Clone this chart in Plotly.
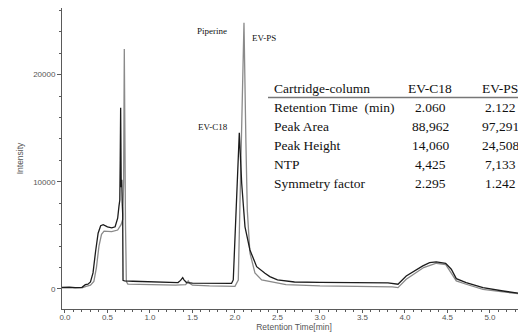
import plotly.graph_objects as go

# ---------------- data ----------------
c18_time = [-0.035, 0.05, 0.12, 0.20, 0.24, 0.27, 0.30, 0.33, 0.36, 0.39, 0.42, 0.45, 0.50, 0.55,
            0.59, 0.62, 0.635, 0.645, 0.650, 0.655, 0.662, 0.668, 0.674, 0.679, 0.683, 0.70,
            0.80, 1.00, 1.20, 1.33, 1.36, 1.385, 1.40, 1.43, 1.50, 1.70, 1.90, 1.96, 1.98,
            2.012, 2.039, 2.051, 2.079, 2.118, 2.176, 2.255, 2.353, 2.41, 2.50, 2.70, 3.00,
            3.50, 3.80, 3.918, 4.015, 4.21, 4.29, 4.368, 4.479, 4.545, 4.604, 4.72, 4.918,
            5.153, 5.424]
c18_int = [150, 180, 120, 150, 400, 450, 650, 1500, 3500, 5200, 5900, 6000, 5800, 5700,
           5800, 6600, 7700, 8300, 12000, 16900, 9500, 10200, 8000, 7000, 800, 750,
           720, 700, 650, 600, 800, 1050, 850, 600, 550, 520, 500, 520, 840,
           7370, 13600, 14580, 9860, 5800, 3640, 2080, 1460, 1150, 850, 650, 620,
           600, 560, 440, 1210, 2150, 2450, 2520, 2400, 1840, 960, 590, 120,
           -190, -500]

ps_time = [-0.035, 0.10, 0.20, 0.25, 0.30, 0.34, 0.37, 0.40, 0.43, 0.46, 0.55, 0.62, 0.66,
           0.68, 0.69, 0.698, 0.705, 0.712, 0.718, 0.722, 0.74, 0.90, 1.10, 1.30, 1.42,
           1.45, 1.47, 1.50, 1.70, 1.90, 2.00, 2.039, 2.067, 2.09, 2.106, 2.129, 2.145,
           2.176, 2.235, 2.314, 2.41, 2.60, 3.00, 3.50, 3.85, 3.918, 4.015, 4.22, 4.37,
           4.48, 4.545, 4.604, 4.72, 4.918, 5.153, 5.424]
ps_int = [100, 130, 100, 250, 350, 700, 2000, 4000, 5100, 5400, 5350, 5500, 6000,
          6500, 10000, 22400, 9000, 6000, 3000, 700, 450, 420, 380, 350, 400,
          750, 500, 350, 280, 260, 250, 840, 10480, 21370, 24850, 13600, 7370,
          3360, 1490, 840, 680, 400, 280, 230, 200, 120, 900, 2000, 2400,
          2270, 1520, 750, 440, -30, -280, -500]

x_tick_vals = [0.0, 0.5, 1.0, 1.5, 2.0, 2.5, 3.0, 3.5, 4.0, 4.5, 5.0]
x_tick_text = ["0.0", "0.5", "1.0", "1.5", "2.0", "2.5", "3.0", "3.5", "4.0", "4.5", "5.0"]
y_tick_vals = [0, 10000, 20000]
y_tick_text = ["0", "10000", "20000"]

peak_labels = ["Piperine", "EV-PS", "EV-C18"]

table_header = ["Cartridge-column", "EV-C18", "EV-PS"]
row_labels = ["Retention Time\u00a0 (min)", "Peak Area", "Peak Height", "NTP", "Symmetry factor"]
c18_vals = ["2.060", "88,962", "14,060", "4,425", "2.295"]
ps_vals = ["2.122", "97,291", "24,508", "7,133", "1.242"]

# ---------------- layout helpers ----------------
# the page body has an 8px default margin, so the figure is offset by 8px
OFF = 8
W, H = 526 - OFF, 332 - OFF
ML, MR, MT, MB = 62 - OFF, 0, 8 - OFF, 23
PW = W - ML - MR
PH = H - MT - MB


def fx(px):
    # px: page pixel x
    return (px - OFF - ML) / PW


def fy(py):
    # py: page pixel y
    return (H - MB - (py - OFF)) / PH


SERIF = "Liberation Serif, Times New Roman, serif"
SANS = "Liberation Sans, Arial, sans-serif"
AX = "#5a5a5a"

fig = go.Figure()
fig.add_trace(go.Scatter(x=ps_time, y=ps_int, mode="lines", name="EV-PS",
                         line=dict(color="#8a8a8a", width=1.3)))
fig.add_trace(go.Scatter(x=c18_time, y=c18_int, mode="lines", name="EV-C18",
                         line=dict(color="#1c1c1c", width=1.3)))

annotations = []
# peak labels
for txt, (px, py) in zip(peak_labels, [(212, 31), (264, 38), (213, 127)]):
    annotations.append(dict(text=txt, x=fx(px), y=fy(py), xref="paper", yref="paper",
                            showarrow=False, xanchor="center", yanchor="middle",
                            font=dict(family=SERIF, size=9, color="#111")))

# table
row_y = [88.5 + 19 * i for i in range(6)]
col_label_x = 272
col1_x, col2_x = 430, 500
tfont = dict(family=SERIF, size=13.5, color="#111")
annotations.append(dict(text=table_header[0], x=fx(col_label_x), y=fy(row_y[0]), xref="paper",
                        yref="paper", showarrow=False, xanchor="left", yanchor="middle", font=tfont))
annotations.append(dict(text=table_header[1], x=fx(col1_x), y=fy(row_y[0]), xref="paper",
                        yref="paper", showarrow=False, xanchor="center", yanchor="middle", font=tfont))
annotations.append(dict(text=table_header[2], x=fx(col2_x), y=fy(row_y[0]), xref="paper",
                        yref="paper", showarrow=False, xanchor="center", yanchor="middle", font=tfont))
for i, (lab, v1, v2) in enumerate(zip(row_labels, c18_vals, ps_vals)):
    yy = fy(row_y[i + 1])
    annotations.append(dict(text=lab, x=fx(col_label_x), y=yy, xref="paper", yref="paper",
                            showarrow=False, xanchor="left", yanchor="middle", font=tfont))
    annotations.append(dict(text=v1, x=fx(col1_x), y=yy, xref="paper", yref="paper",
                            showarrow=False, xanchor="center", yanchor="middle", font=tfont))
    annotations.append(dict(text=v2, x=fx(col2_x), y=yy, xref="paper", yref="paper",
                            showarrow=False, xanchor="center", yanchor="middle", font=tfont))

shapes = [dict(type="line", xref="paper", yref="paper", x0=fx(268), x1=fx(520),
               y0=fy(97.5), y1=fy(97.5), line=dict(color="#777", width=1.5))]

fig.update_layout(
    width=W, height=H,
    margin=dict(l=ML, r=MR, t=MT, b=MB, pad=0),
    paper_bgcolor="white", plot_bgcolor="white",
    showlegend=False,
    annotations=annotations,
    shapes=shapes,
    xaxis=dict(range=[-0.035, 5.424], showgrid=False, zeroline=False,
               showline=True, linecolor=AX, linewidth=1,
               ticks="outside", ticklen=3, tickcolor=AX, tickwidth=1,
               tickvals=x_tick_vals, ticktext=x_tick_text,
               ticklabelstandoff=-3,
               tickfont=dict(family=SANS, size=8, color="#555"),
               minor=dict(dtick=0.1, tick0=0, ticks="outside", ticklen=2, tickcolor=AX),
               title=dict(text="Retention Time[min]", standoff=1,
                          font=dict(family=SANS, size=8.5, color="#555"))),
    yaxis=dict(range=[-1870, 26220], showgrid=False, zeroline=False,
               showline=True, linecolor=AX, linewidth=1,
               ticks="outside", ticklen=4, tickcolor=AX, tickwidth=1,
               tickvals=y_tick_vals, ticktext=y_tick_text,
               tickfont=dict(family=SANS, size=8, color="#555"),
               minor=dict(dtick=2000, tick0=0, ticks="outside", ticklen=2, tickcolor=AX),
               title=dict(text="Intensity", standoff=8,
                          font=dict(family=SANS, size=8.5, color="#555"))),
)

fig.write_html("out.html")
